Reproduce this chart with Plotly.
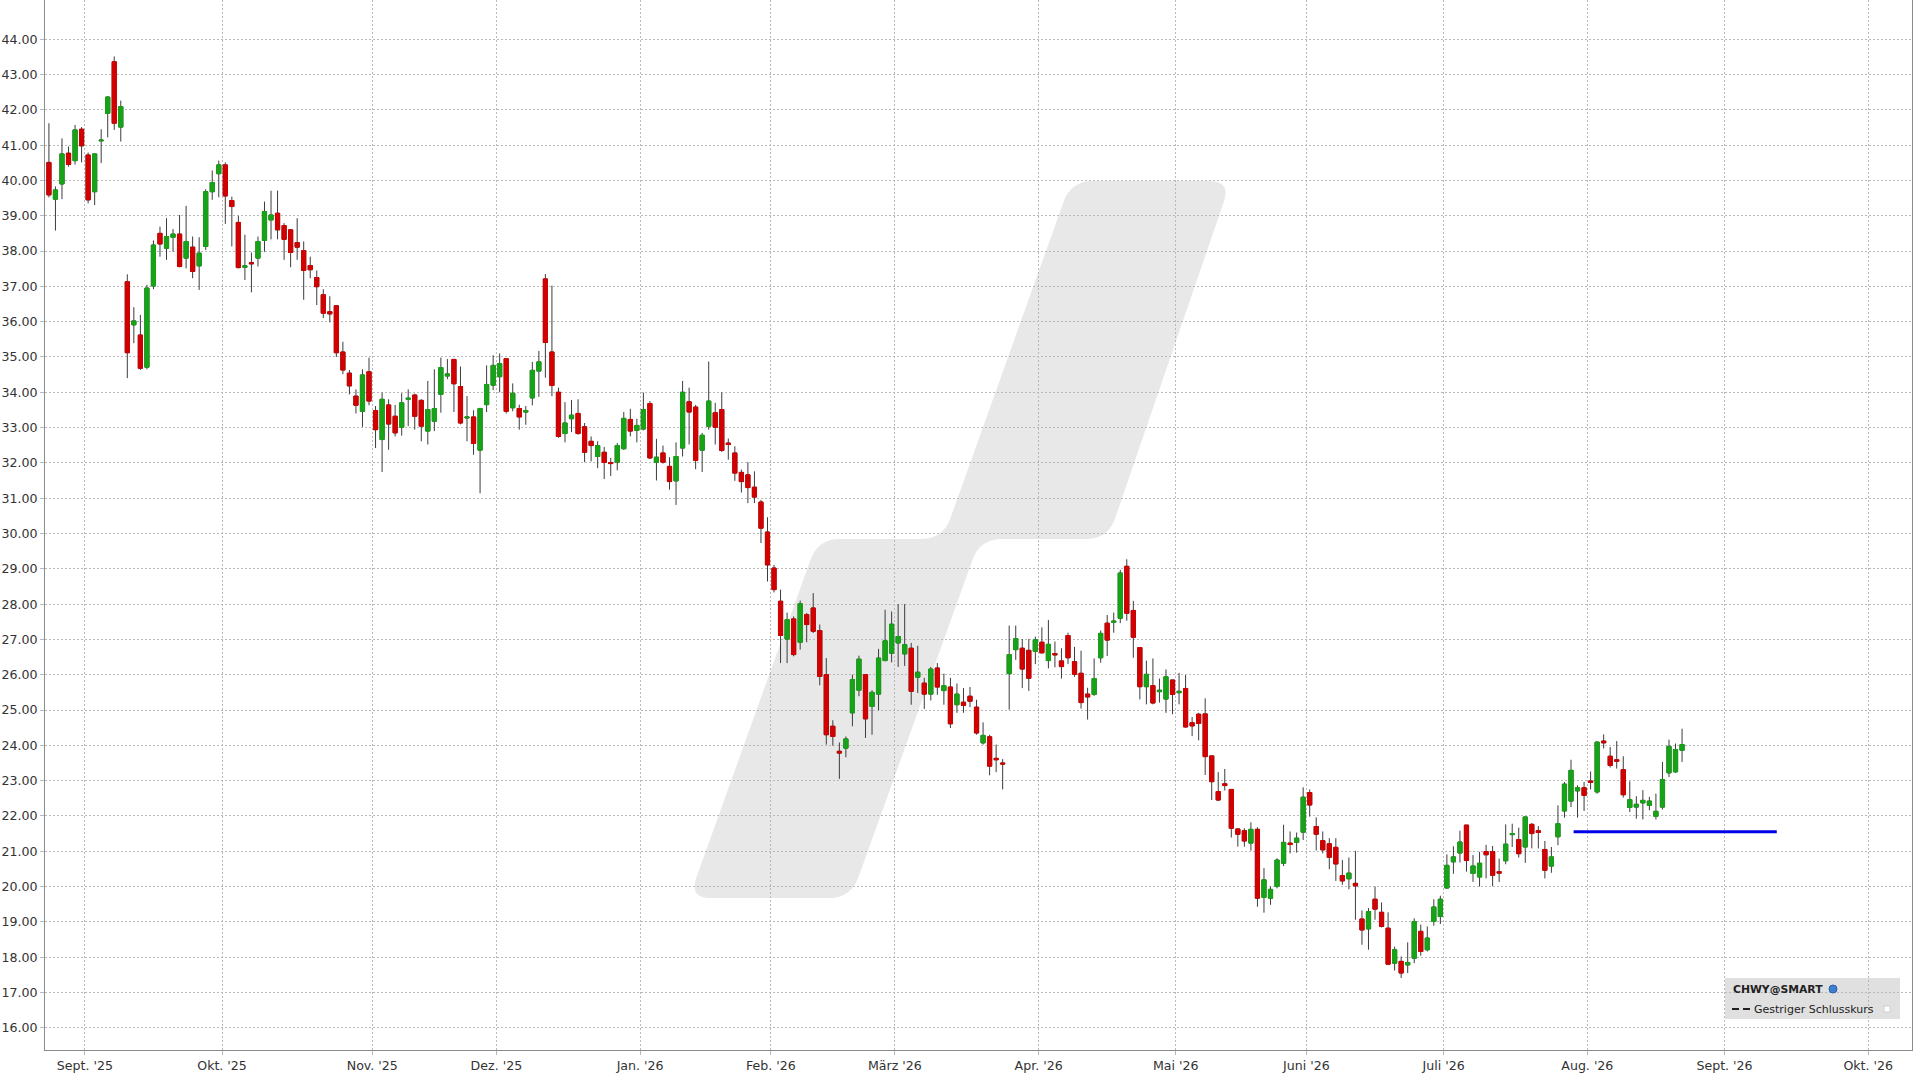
import plotly.graph_objects as go

# ---------------- data (CHWY daily candles, Aug 2025 - Aug 2026) ----------------
opens = [
    40.51, 39.47, 39.90, 40.77, 40.56, 41.45, 40.72, 39.68, 41.12, 41.90,
    43.36, 41.51, 37.13, 35.91, 35.62, 34.71, 37.01, 38.50, 38.08, 38.39,
    38.48, 37.80, 38.11, 37.58, 38.13, 39.68, 40.19, 40.44, 39.43, 38.81,
    37.54, 37.67, 37.80, 38.30, 38.88, 39.07, 38.72, 38.60, 38.24, 38.01,
    37.59, 37.25, 36.76, 36.28, 36.45, 35.14, 34.54, 33.89, 33.46, 34.58,
    33.48, 32.66, 33.64, 33.32, 33.01, 33.80, 33.92, 33.77, 32.90, 33.18,
    33.94, 34.46, 34.93, 34.16, 33.27, 33.30, 32.36, 33.65, 34.20, 34.44,
    34.95, 33.56, 33.54, 33.44, 33.84, 34.60, 37.21, 35.14, 34.00, 32.83,
    33.25, 33.40, 33.02, 32.61, 32.18, 32.30, 32.01, 32.02, 32.40, 33.23,
    32.92, 32.96, 33.68, 32.02, 32.28, 31.90, 31.49, 32.42, 33.73, 33.58,
    32.36, 33.04, 33.42, 33.51, 32.56, 32.28, 31.73, 31.66, 31.31, 30.89,
    30.04, 29.02, 28.08, 27.01, 27.58, 26.92, 27.70, 27.89, 27.25, 26.00,
    24.54, 23.83, 23.92, 24.92, 25.56, 26.00, 25.10, 25.45, 26.40, 26.61,
    26.90, 26.59, 26.75, 25.93, 25.76, 25.45, 26.19, 25.55, 25.65, 25.15,
    25.22, 25.39, 25.08, 24.07, 24.24, 23.63, 23.50, 26.03, 26.71, 26.75,
    26.69, 26.66, 26.92, 26.40, 26.60, 26.39, 27.11, 26.37, 26.04, 25.45,
    25.44, 26.48, 27.46, 27.48, 27.60, 29.07, 27.82, 26.77, 25.66, 25.69,
    25.52, 25.31, 25.85, 25.49, 25.61, 24.64, 24.88, 24.89, 23.70, 22.69,
    22.91, 22.75, 21.63, 21.58, 21.23, 21.62, 19.69, 19.67, 20.00, 20.66,
    21.23, 21.25, 21.54, 22.66, 21.70, 21.30, 21.21, 21.11, 20.31, 20.22,
    20.09, 19.08, 18.80, 19.64, 19.27, 18.82, 17.83, 17.88, 17.78, 17.97,
    18.73, 18.21, 19.01, 19.15, 19.96, 20.70, 20.95, 21.74, 20.37, 20.27,
    20.99, 20.99, 20.42, 20.73, 21.47, 21.33, 21.12, 21.76, 21.58, 21.05,
    20.58, 21.41, 22.14, 22.42, 22.71, 22.80, 22.99, 22.68, 24.12, 23.69,
    23.59, 23.31, 22.24, 22.25, 22.37, 22.30, 21.99, 22.25, 23.22, 23.25,
    23.86,
]
highs = [
    41.62, 39.83, 41.19, 40.96, 41.57, 41.51, 40.79, 40.77, 41.45, 42.39,
    43.51, 42.26, 37.34, 36.41, 36.19, 37.04, 38.30, 38.69, 38.93, 38.62,
    39.02, 39.28, 38.41, 38.39, 39.75, 40.28, 40.56, 40.51, 39.54, 39.00,
    38.46, 37.96, 38.41, 39.40, 39.71, 39.71, 38.79, 38.62, 38.93, 38.27,
    37.84, 37.45, 36.92, 36.72, 36.47, 35.43, 34.63, 34.08, 34.65, 34.98,
    33.61, 33.99, 33.80, 33.64, 33.97, 34.08, 33.96, 33.80, 34.32, 34.65,
    34.98, 34.94, 34.93, 34.73, 33.89, 33.49, 33.56, 34.76, 35.05, 35.10,
    34.97, 34.25, 33.65, 33.61, 34.86, 35.17, 37.35, 37.02, 34.13, 33.72,
    33.78, 33.80, 33.13, 32.75, 32.61, 32.45, 32.14, 32.56, 33.44, 33.53,
    33.25, 33.99, 33.75, 32.68, 32.49, 32.16, 32.58, 34.32, 34.13, 33.64,
    32.85, 34.87, 33.70, 34.00, 32.69, 32.47, 31.81, 32.02, 31.76, 30.95,
    30.46, 29.11, 28.41, 27.76, 27.65, 28.10, 27.75, 28.31, 27.42, 26.47,
    24.71, 24.08, 24.25, 26.00, 26.54, 26.02, 25.56, 26.73, 27.84, 27.79,
    28.00, 28.00, 26.90, 26.82, 25.91, 26.22, 26.33, 26.03, 25.91, 25.75,
    25.62, 25.65, 25.29, 24.65, 24.30, 24.02, 23.61, 27.39, 27.39, 27.01,
    27.01, 27.08, 27.34, 27.55, 26.94, 26.75, 27.19, 26.79, 26.68, 25.63,
    26.46, 27.25, 27.69, 27.76, 28.97, 29.27, 28.09, 26.77, 26.40, 26.46,
    25.89, 26.15, 25.85, 26.05, 25.99, 24.80, 24.92, 25.33, 23.70, 23.24,
    23.33, 22.75, 21.65, 21.65, 21.82, 21.68, 20.52, 20.00, 20.80, 21.75,
    21.56, 21.53, 22.81, 22.75, 21.96, 21.56, 21.37, 21.37, 20.75, 20.82,
    21.01, 19.32, 19.39, 20.00, 19.55, 19.27, 18.30, 18.02, 18.42, 19.10,
    18.92, 18.87, 19.64, 19.74, 20.91, 21.14, 21.58, 21.74, 20.89, 20.98,
    21.18, 21.15, 20.79, 21.76, 21.78, 21.67, 21.99, 21.80, 21.71, 21.29,
    21.12, 22.30, 22.96, 23.59, 22.87, 22.96, 23.26, 24.11, 24.31, 23.95,
    24.12, 23.69, 22.98, 22.56, 22.73, 22.54, 22.63, 23.53, 24.16, 24.05,
    24.47,
]
lows = [
    39.52, 38.58, 39.47, 40.39, 40.45, 40.51, 39.35, 39.30, 40.49, 41.22,
    41.43, 41.10, 34.40, 35.39, 34.63, 34.65, 36.92, 37.84, 37.75, 37.98,
    37.54, 37.51, 37.23, 36.90, 38.03, 39.45, 39.52, 38.77, 38.13, 37.51,
    37.18, 36.83, 37.56, 37.98, 38.33, 38.33, 37.75, 37.54, 37.75, 36.62,
    37.23, 36.47, 36.10, 35.98, 35.00, 34.51, 33.94, 33.40, 33.02, 33.63,
    32.42, 31.74, 32.37, 32.75, 32.77, 33.04, 32.94, 32.61, 32.52, 32.90,
    33.42, 34.37, 33.44, 33.09, 32.61, 32.23, 31.14, 33.44, 34.06, 34.00,
    33.40, 33.46, 32.94, 33.08, 33.63, 33.87, 34.41, 33.89, 32.71, 32.58,
    32.87, 32.80, 32.02, 32.04, 31.85, 31.54, 31.63, 31.79, 32.37, 32.75,
    32.58, 32.92, 32.11, 31.50, 31.98, 31.24, 30.81, 32.18, 32.52, 31.82,
    31.74, 32.94, 32.52, 32.31, 32.09, 31.49, 31.16, 30.86, 30.86, 29.73,
    28.64, 28.33, 26.33, 26.33, 26.52, 26.71, 26.92, 27.18, 25.70, 24.02,
    23.99, 23.05, 23.66, 24.54, 25.39, 24.21, 24.30, 24.99, 26.38, 26.35,
    26.22, 26.25, 25.15, 25.48, 25.03, 25.27, 25.43, 25.15, 24.49, 24.92,
    24.92, 25.08, 24.30, 24.02, 23.15, 23.24, 22.75, 25.01, 26.42, 25.62,
    25.54, 26.30, 26.60, 26.18, 26.21, 25.89, 26.30, 25.94, 25.04, 24.73,
    25.40, 26.34, 26.53, 27.19, 27.46, 27.53, 26.48, 25.30, 25.16, 25.16,
    25.21, 24.92, 24.88, 25.16, 24.50, 24.26, 24.14, 23.16, 22.45, 22.42,
    22.72, 21.39, 21.13, 21.13, 21.02, 19.43, 19.26, 19.48, 19.95, 20.58,
    20.94, 20.96, 21.32, 21.98, 21.02, 20.94, 20.49, 20.16, 20.05, 19.92,
    19.06, 18.35, 18.21, 19.06, 18.84, 17.78, 17.62, 17.41, 17.55, 17.83,
    18.04, 18.16, 18.89, 18.94, 19.93, 20.36, 20.68, 20.42, 20.13, 20.00,
    20.23, 20.01, 20.13, 20.63, 21.12, 20.82, 20.67, 21.08, 21.08, 20.23,
    20.39, 21.17, 21.95, 22.25, 21.95, 22.14, 22.75, 22.63, 23.91, 23.37,
    23.34, 22.52, 22.11, 21.92, 21.90, 22.16, 21.90, 22.18, 23.10, 23.22,
    23.53,
]
closes = [
    39.59, 39.73, 40.75, 40.45, 41.43, 40.98, 39.45, 40.75, 41.14, 42.36,
    41.62, 42.09, 35.12, 36.02, 34.68, 36.95, 38.17, 38.20, 38.41, 38.48,
    37.56, 38.27, 37.42, 37.94, 39.68, 39.94, 40.44, 39.56, 39.26, 37.53,
    37.58, 37.64, 38.27, 39.12, 39.02, 38.60, 38.33, 37.96, 38.11, 37.45,
    37.47, 36.99, 36.24, 36.22, 35.12, 34.63, 34.18, 33.63, 34.49, 33.75,
    32.94, 33.80, 33.10, 32.85, 33.70, 33.83, 33.32, 33.04, 33.51, 33.54,
    34.70, 34.52, 34.24, 33.13, 33.30, 32.55, 33.54, 34.22, 34.76, 34.81,
    33.46, 33.97, 33.30, 33.48, 34.62, 34.86, 35.41, 34.19, 32.75, 33.13,
    33.35, 32.83, 32.30, 32.49, 32.49, 32.01, 31.98, 32.49, 33.26, 32.90,
    33.06, 33.51, 32.14, 32.16, 32.02, 31.47, 32.18, 34.00, 33.44, 32.07,
    32.78, 33.75, 33.01, 32.35, 32.52, 31.71, 31.47, 31.30, 31.03, 30.15,
    29.11, 28.41, 27.11, 27.56, 26.57, 28.01, 27.42, 27.23, 25.95, 24.30,
    24.25, 23.78, 24.18, 25.86, 26.44, 24.75, 25.50, 26.47, 26.96, 27.43,
    27.08, 26.85, 25.53, 26.07, 25.45, 26.16, 25.65, 25.69, 24.61, 25.45,
    25.13, 25.25, 24.35, 24.28, 23.41, 23.59, 23.47, 26.57, 27.02, 26.16,
    25.90, 26.99, 26.62, 26.86, 26.56, 26.23, 26.48, 26.01, 25.21, 25.37,
    25.89, 27.17, 26.98, 27.52, 28.88, 27.74, 27.06, 25.66, 26.01, 25.20,
    25.56, 25.94, 25.44, 25.53, 24.52, 24.55, 24.62, 23.68, 22.97, 22.45,
    22.86, 21.65, 21.48, 21.29, 21.62, 19.67, 20.19, 19.92, 20.75, 21.25,
    21.19, 21.37, 22.53, 22.31, 21.48, 21.04, 20.83, 20.64, 20.16, 20.38,
    20.02, 18.77, 19.29, 19.36, 18.87, 17.80, 18.21, 17.55, 17.85, 19.01,
    18.16, 18.54, 19.42, 19.64, 20.60, 20.84, 21.26, 20.74, 20.58, 20.66,
    20.90, 20.32, 20.38, 21.20, 21.50, 20.93, 21.97, 21.50, 21.53, 20.46,
    20.84, 21.78, 22.90, 23.29, 22.80, 22.58, 22.95, 24.09, 24.07, 23.43,
    23.55, 22.60, 22.46, 22.33, 22.44, 22.42, 22.13, 23.03, 23.97, 23.88,
    24.02,
]

# month boundaries on the trading-day axis and their labels
month_tick_pos = [5.5, 26.5, 49.5, 68.5, 90.5, 110.5, 129.5, 151.5,
                  172.5, 192.5, 213.5, 235.5, 256.5, 278.5]
month_tick_labels = ["Sept. '25", "Okt. '25", "Nov. '25", "Dez. '25", "Jan. '26",
                     "Feb. '26", "März '26", "Apr. '26", "Mai '26", "Juni '26",
                     "Juli '26", "Aug. '26", "Sept. '26", "Okt. '26"]
price_ticks = [16, 17, 18, 19, 20, 21, 22, 23, 24, 25, 26, 27, 28, 29, 30,
               31, 32, 33, 34, 35, 36, 37, 38, 39, 40, 41, 42, 43, 44]

ref_line_value = 21.55
ref_line_span = [233.4, 264.5]

legend_title = "CHWY@SMART"
legend_item = "Gestriger Schlusskurs"

# ---------------- styling ----------------
W, H = 1920, 1080
ML, MR, MT, MB = 45, 8, 0, 30
PW, PH = W - ML - MR, H - MT - MB

GREEN = '#17a317'
RED = '#d20000'
WICK = '#3c3c3c'
GRID = '#b9b9b9'
FONT = 'DejaVu Sans'


def fx(px):
    return (px - ML) / PW


def fy(py):
    return 1 - (py - MT) / PH


def rounded_path(pts, r):
    n = len(pts)
    out = []
    for k in range(n):
        ax_, ay_ = pts[k - 1]
        vx, vy = pts[k]
        nx, ny = pts[(k + 1) % n]
        d1 = ((ax_ - vx) ** 2 + (ay_ - vy) ** 2) ** 0.5
        d2 = ((nx - vx) ** 2 + (ny - vy) ** 2) ** 0.5
        a = (vx + (ax_ - vx) * r / d1, vy + (ay_ - vy) * r / d1)
        b = (vx + (nx - vx) * r / d2, vy + (ny - vy) * r / d2)
        cmd = 'M' if k == 0 else 'L'
        out.append(f"{cmd}{fx(a[0]):.5f},{fy(a[1]):.5f} "
                   f"Q{fx(vx):.5f},{fy(vy):.5f} {fx(b[0]):.5f},{fy(b[1]):.5f}")
    return ' '.join(out) + ' Z'


x = list(range(len(opens)))
body_top = [max(o, c) for o, c in zip(opens, closes)]
body_bot = [min(o, c) for o, c in zip(opens, closes)]

fig = go.Figure()
# wicks (plus body)
fig.add_trace(go.Candlestick(
    x=x, open=opens, high=highs, low=lows, close=closes,
    increasing=dict(line=dict(color=WICK, width=1), fillcolor=GREEN),
    decreasing=dict(line=dict(color=WICK, width=1), fillcolor=RED),
    whiskerwidth=0, showlegend=False, hoverinfo='skip'))
# coloured bodies drawn over the wick outline
fig.add_trace(go.Candlestick(
    x=x, open=opens, high=body_top, low=body_bot, close=closes,
    increasing=dict(line=dict(color=GREEN, width=1), fillcolor=GREEN),
    decreasing=dict(line=dict(color=RED, width=1), fillcolor=RED),
    whiskerwidth=0, showlegend=False, hoverinfo='skip'))
# blue reference line
fig.add_trace(go.Scatter(
    x=ref_line_span, y=[ref_line_value, ref_line_value], mode='lines',
    line=dict(color='#0000e6', width=3), showlegend=False, hoverinfo='skip'))

shapes = []
# watermark logo
logo = [(1071, 181), (1231, 181), (1108, 539), (980, 539),
        (851, 898), (689, 898), (818, 539), (943, 539)]
shapes.append(dict(type='path', xref='paper', yref='paper', layer='below',
                   path=rounded_path(logo, 22), fillcolor='#e8e8e8',
                   line=dict(width=0)))
# legend box
shapes.append(dict(type='rect', xref='paper', yref='paper', layer='below',
                   x0=fx(1725), x1=fx(1900), y0=fy(1019), y1=fy(978),
                   fillcolor='#e0e0e0', line=dict(width=0)))
# dashed legend symbol
for a, b in [(1732, 1739), (1743, 1750)]:
    shapes.append(dict(type='line', xref='paper', yref='paper', layer='above',
                       x0=fx(a), x1=fx(b), y0=fy(1009), y1=fy(1009),
                       line=dict(color='#222222', width=2)))
# small globe icon
shapes.append(dict(type='circle', xref='paper', yref='paper', layer='above',
                   x0=fx(1829), x1=fx(1837), y0=fy(993), y1=fy(985),
                   fillcolor='#3f7fd0', line=dict(color='#2a5fa8', width=1)))
# small white square
shapes.append(dict(type='rect', xref='paper', yref='paper', layer='above',
                   x0=fx(1884), x1=fx(1890), y0=fy(1012), y1=fy(1006),
                   fillcolor='#ffffff', line=dict(color='#d0d0d0', width=1)))

annotations = [
    dict(xref='paper', yref='paper', x=fx(1731), y=fy(989), xanchor='left',
         yanchor='middle', showarrow=False, text=f"<b>{legend_title}</b>",
         font=dict(family=FONT, size=10.8, color='#222222')),
    dict(xref='paper', yref='paper', x=fx(1752), y=fy(1009), xanchor='left',
         yanchor='middle', showarrow=False, text=legend_item,
         font=dict(family=FONT, size=11, color='#222222')),
]

fig.update_layout(
    width=W, height=H,
    margin=dict(l=ML, r=MR, t=MT, b=MB, pad=0),
    paper_bgcolor='white', plot_bgcolor='white',
    showlegend=False,
    boxgap=0.2, boxgroupgap=0.2,
    font=dict(family=FONT, size=12.6, color='#333333'),
    shapes=shapes, annotations=annotations,
)
fig.update_xaxes(
    range=[-0.6, 285.2], tickvals=month_tick_pos, ticktext=month_tick_labels,
    tickangle=0, showgrid=True, gridcolor=GRID, gridwidth=1, griddash='2px,2px',
    showline=True, linecolor='#8c8c8c', linewidth=1, zeroline=False,
    ticks='outside', ticklen=4, tickcolor=GRID, rangeslider=dict(visible=False),
    tickfont=dict(family=FONT, size=12.6, color='#333333'),
)
fig.update_yaxes(
    range=[15.37, 45.11], tickvals=price_ticks, tickformat='.2f',
    showgrid=True, gridcolor=GRID, gridwidth=1, griddash='2px,2px',
    showline=True, mirror=True, linecolor='#8c8c8c', linewidth=1, zeroline=False,
    ticks='outside', ticklen=4, tickcolor=GRID,
    tickfont=dict(family=FONT, size=12.6, color='#333333'),
)

fig.write_html("out.html", config={'displayModeBar': False},
               post_script="document.body.style.margin='0';"
                           "document.body.style.overflow='hidden';")
